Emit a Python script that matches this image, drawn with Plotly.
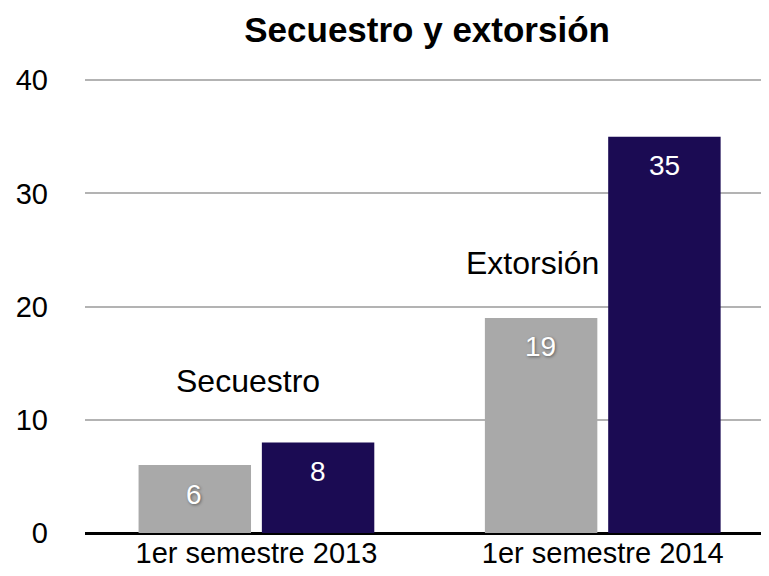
import plotly.graph_objects as go

# periods on the x axis
periodos = ["1er semestre 2013", "1er semestre 2014"]
# first (grey) and second (navy) bar of each group
gris = [6, 19]
marino = [8, 35]
# group captions written over the bars
rotulos = ["Secuestro", "Extorsión"]
rotulo_y = [13.4, 23.85]
rotulo_dx = [-8, -70]
y_ticks = [0, 10, 20, 30, 40]

GRIS = "#a9a9a9"
MARINO = "#1b0b53"
FUENTE = "Liberation Sans, Arial, Helvetica, sans-serif"

fig = go.Figure()
fig.add_trace(go.Bar(x=periodos, y=gris, marker=dict(color=GRIS, line=dict(width=0)),
                     name="gris", hoverinfo="skip"))
fig.add_trace(go.Bar(x=periodos, y=marino, marker=dict(color=MARINO, line=dict(width=0)),
                     name="marino", hoverinfo="skip"))

# value labels near the top of each bar
for serie, shift, sombra in ((gris, -62, "1px 1px 3px rgba(0,0,0,0.45)"), (marino, 62, "none")):
    for p, v in zip(periodos, serie):
        fig.add_annotation(
            x=p, y=v, xref="x", yref="y", text=str(v), showarrow=False,
            xshift=shift, yshift=-29,
            font=dict(family=FUENTE, size=28, color="white", shadow=sombra),
        )

for p, t, y, dx in zip(periodos, rotulos, rotulo_y, rotulo_dx):
    fig.add_annotation(
        x=p, y=y, xref="x", yref="y", text=t, showarrow=False, xshift=dx,
        font=dict(family=FUENTE, size=32, color="black"),
    )

# the page body adds an 8px offset, margins compensate for it
fig.update_layout(
    width=769, height=576,
    paper_bgcolor="white", plot_bgcolor="white",
    barmode="group", bargap=0.288, bargroupgap=0.088,
    showlegend=False,
    margin=dict(l=70, r=8, t=71, b=51),
    title=dict(text="<b>Secuestro y extorsión</b>", x=0.545, xanchor="center",
               y=0.962, yanchor="middle",
               font=dict(family=FUENTE, size=35, color="black")),
    font=dict(family=FUENTE, size=29, color="black"),
    xaxis=dict(showgrid=False, showline=False, ticks="", range=[-0.495, 1.48],
               tickfont=dict(size=29, color="black")),
    yaxis=dict(range=[0, 40.1], tickvals=y_ticks, showgrid=True,
               gridcolor="#b3b3b3", gridwidth=2,
               zeroline=True, zerolinecolor="black", zerolinewidth=3,
               showline=False, ticks="", ticklabelstandoff=36,
               tickfont=dict(size=29, color="black")),
)

fig.write_html("out.html")
